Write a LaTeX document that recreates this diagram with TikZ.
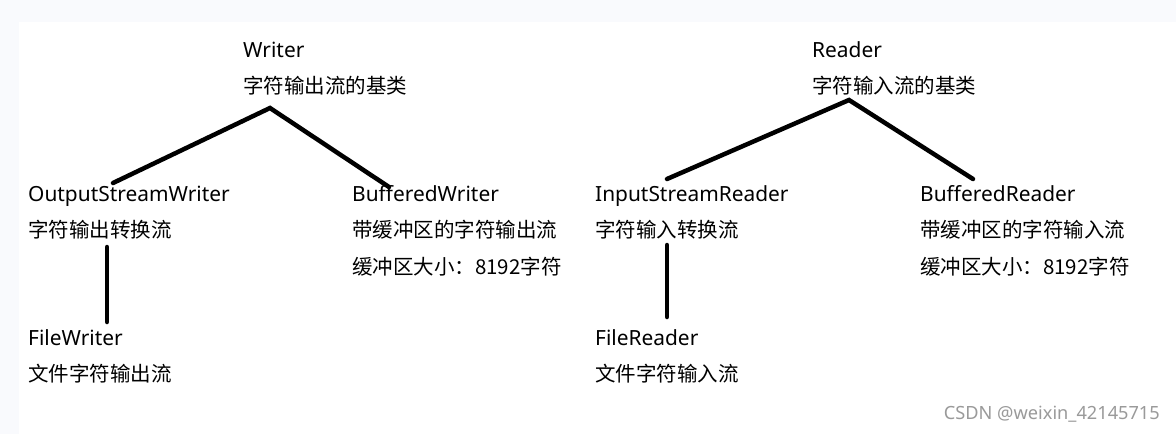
\documentclass[tikz,border=0pt]{standalone}
\usepackage{fontspec}
\setmainfont{Noto Sans}
\newfontfamily\cjk{Noto Sans CJK SC}
\usepackage{xcolor}
\usepackage{tikz}
\definecolor{pagebg}{HTML}{F9FAFD}
\definecolor{markgray}{HTML}{9A9A9A}

\begin{document}
\begin{tikzpicture}[x=1pt,y=-1pt,
en/.style={anchor=base west,inner sep=0pt,font=\fontsize{20.9}{24}\selectfont},
zh/.style={anchor=base west,inner sep=0pt,font=\cjk\fontsize{20.5}{24}\selectfont},
link/.style={line width=4.5pt,line cap=round}]
\useasboundingbox(0,0)rectangle(1176,434);
\fill[pagebg](0,0)rectangle(1176,434);
\fill[white](19,22)rectangle(1176,434);
% Writer side
\node[en](writer)at(243,57){Writer};
\node[zh](writerzh)at(243,93){字符输出流的基类};
\node[en](osw)at(28,201){OutputStreamWriter};
\node[zh](oswzh)at(28,237){字符输出转换流};
\node[en](fw)at(28,345){FileWriter};
\node[zh](fwzh)at(28,381){文件字符输出流};
\node[en](bw)at(352,201){BufferedWriter};
\node[zh](bwzh)at(352,237){带缓冲区的字符输出流};
\node[zh](bwsize)at(352,274){缓冲区大小：8192字符};
% Reader side
\node[en](reader)at(812,57){Reader};
\node[zh](readerzh)at(812,93){字符输入流的基类};
\node[en](isr)at(595,201){InputStreamReader};
\node[zh](isrzh)at(595,237){字符输入转换流};
\node[en](fr)at(595,345){FileReader};
\node[zh](frzh)at(595,381){文件字符输入流};
\node[en](br)at(920,201){BufferedReader};
\node[zh](brzh)at(920,237){带缓冲区的字符输入流};
\node[zh](brsize)at(920,274){缓冲区大小：8192字符};
% line ends
\coordinate(wtop)at(270,108);
\coordinate(wleft)at(113,183);
\coordinate(wright)at(389,187);
\coordinate(oswdown)at(107,247);
\coordinate(fwup)at(107,322);
\coordinate(rtop)at(849,100);
\coordinate(rleft)at(667,179);
\coordinate(rright)at(973,179);
\coordinate(isrdown)at(667,245);
\coordinate(frup)at(667,317);
\draw[link](wleft)--(wtop)--(wright);
\draw[link](oswdown)--(fwup);
\draw[link](rleft)--(rtop)--(rright);
\draw[link](isrdown)--(frup);
\node[anchor=base east,inner sep=0pt,text=markgray,font=\fontsize{18.2}{22}\selectfont](mark)at(1160,419){CSDN @weixin\_42145715};
\end{tikzpicture}
\end{document}
